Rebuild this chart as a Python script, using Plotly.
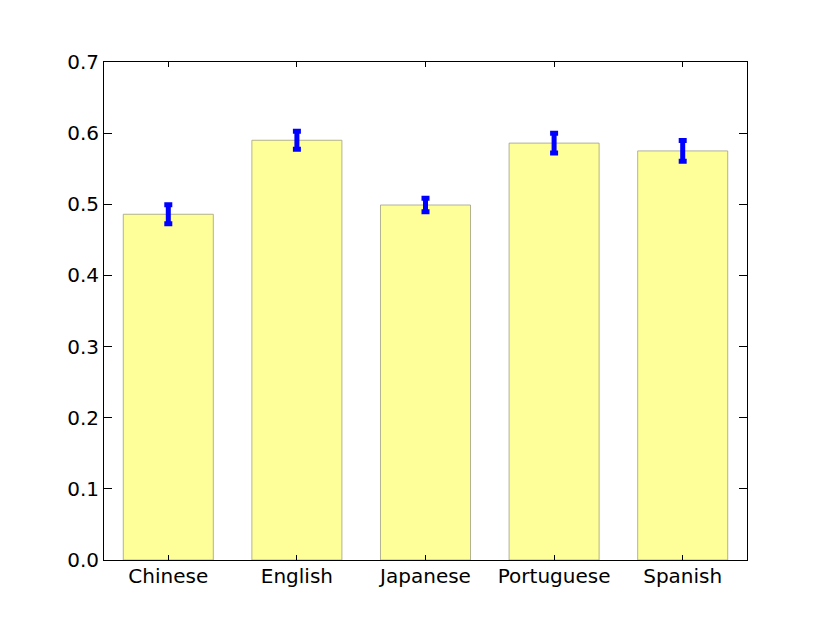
import plotly.graph_objects as go

languages = ['Chinese', 'English', 'Japanese', 'Portuguese', 'Spanish']
scores = [0.486, 0.590, 0.499, 0.586, 0.575]
errors = [0.0135, 0.0128, 0.0094, 0.014, 0.0145]

fig = go.Figure()
fig.add_trace(go.Bar(
    x=languages, y=scores,
    width=0.7,
    marker=dict(color='#ffff99', line=dict(color='#a0a080', width=0.8)),
    error_y=dict(type='data', array=errors, color='#0000ff', thickness=5, width=4),
))

# page body adds an 8px offset, so margins are shifted to compensate
axis_font = dict(family='DejaVu Sans', size=20, color='black')
fig.update_layout(
    width=830, height=623,
    margin=dict(l=96, r=91, t=54, b=71),
    paper_bgcolor='white', plot_bgcolor='white',
    showlegend=False,
    xaxis=dict(range=[-0.5, 4.5], showline=True, linecolor='black', linewidth=1,
               mirror='allticks', ticks='inside', ticklen=5, tickcolor='black',
               tickfont=axis_font, showgrid=False, zeroline=False,
               ticklabelstandoff=-2),
    yaxis=dict(range=[0, 0.7], dtick=0.1, tickformat='.1f', showline=True,
               linecolor='black', linewidth=1, mirror='allticks', ticks='inside',
               ticklen=8, tickcolor='black', tickfont=axis_font,
               showgrid=False, zeroline=False),
)

fig.write_html("out.html")
